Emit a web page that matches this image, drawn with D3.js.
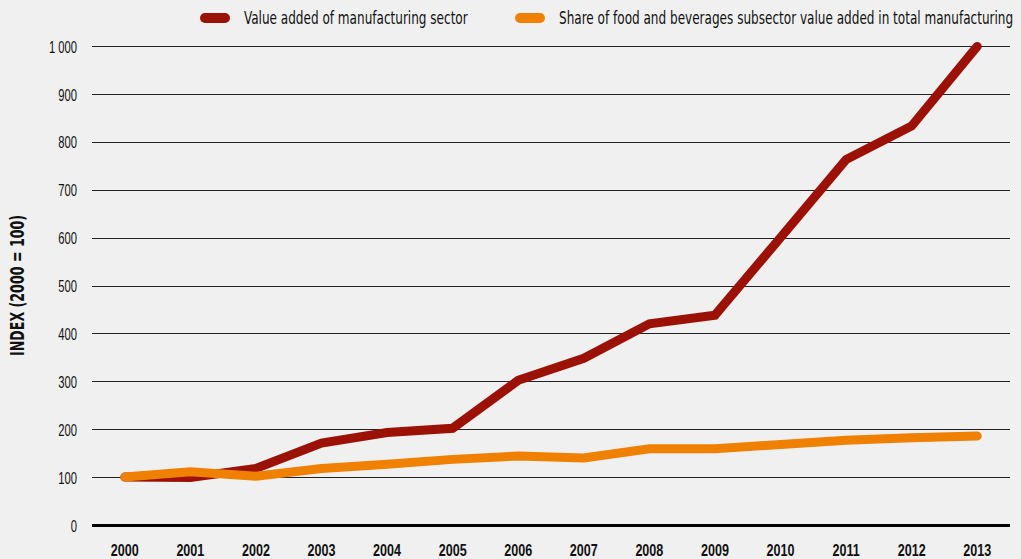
<!DOCTYPE html>
<html><head><meta charset="utf-8">
<script src="https://cdn.jsdelivr.net/npm/d3@7"></script>
<style>
html,body{margin:0;padding:0;background:#f0f0f0;}
svg{display:block;font-family:"DejaVu Sans Condensed","DejaVu Sans",sans-serif;font-stretch:condensed;}
</style></head>
<body><svg id="c" width="1021" height="559"></svg>
<script>
const years = [2000,2001,2002,2003,2004,2005,2006,2007,2008,2009,2010,2011,2012,2013];
const manufacturing = [100,99,118,171,193,202,302,348,420,438,600,763,833,999];
const foodShare = [100,111,102,118,127,137,144,140,159,159,168,177,182,186];
const yTicks = [0,100,200,300,400,500,600,700,800,900,1000];
const seriesNames = ["Value added of manufacturing sector","Share of food and beverages subsector value added in total manufacturing"];
const seriesColors = ["#9c1106","#f08000"];

const svg = d3.select("#c");
const m = {left:92,right:11,top:46,bottom:34};
const W = 1021, H = 559;
const x = d3.scaleBand().domain(years).range([m.left, W-m.right]).padding(0);
const y = d3.scaleLinear().domain([0,1000]).range([H-m.bottom, m.top]);
const fmt = v => v>=1000 ? d3.format(",")(v).replace(",", " ") : String(v);

// horizontally condensed text helper
function condense(sel, sx){
  sel.each(function(){
    const t = d3.select(this);
    const ox = +t.attr("x") || 0;
    t.attr("x", ox/sx).attr("transform", `scale(${sx},1)`);
  });
}

// grid
const yAxis = d3.axisLeft(y).tickValues(yTicks).tickFormat(fmt).tickSize(-(W-m.left-m.right)).tickPadding(15);
const gy = svg.append("g").attr("transform",`translate(${m.left},0)`).call(yAxis);
gy.select(".domain").remove();
gy.selectAll(".tick line").attr("stroke","#222").attr("stroke-width",1).attr("shape-rendering","crispEdges");
gy.selectAll(".tick").filter(d=>d===0).select("line").attr("stroke","#000").attr("stroke-width",2.5);
gy.selectAll(".tick text").attr("fill","#111").style("font-size","17px").attr("dy","0.36em");
condense(gy.selectAll(".tick text"), 0.66);

// x axis
const xAxis = d3.axisBottom(x).tickSize(0).tickPadding(0);
const gx = svg.append("g").attr("transform",`translate(0,${H-m.bottom})`).call(xAxis);
gx.select(".domain").remove();
gx.selectAll(".tick text").attr("fill","#111").style("font-size","17px").style("font-weight","bold")
  .attr("y",31).attr("dy",0);
condense(gx.selectAll(".tick text"), 0.74);

// axis title
const tg = svg.append("g").attr("transform",`translate(24,${(m.top+H-m.bottom)/2}) rotate(-90)`);
tg.append("text").attr("text-anchor","middle").attr("fill","#111").style("font-size","19px").style("font-weight","bold")
  .attr("transform","scale(0.74,1)").text("INDEX (2000 = 100)");

// lines
const line = d3.line().x((d,i)=>x(years[i])+x.bandwidth()/2).y(d=>y(d));
[manufacturing, foodShare].forEach((s,i)=>{
  svg.append("path").datum(s).attr("d",line).attr("fill","none")
    .attr("stroke",seriesColors[i]).attr("stroke-width",9)
    .attr("stroke-linecap","round").attr("stroke-linejoin","miter");
});

// legend
const legX = [200,515];
seriesNames.forEach((n,i)=>{
  const g = svg.append("g").attr("transform",`translate(${legX[i]},18)`);
  g.append("line").attr("x1",5).attr("x2",25).attr("y1",0).attr("y2",0)
    .attr("stroke",seriesColors[i]).attr("stroke-width",10).attr("stroke-linecap","round");
  g.append("text").attr("x",44).attr("y",0).attr("dy","0.36em").attr("fill","#111")
    .style("font-size","18px").text(n);
  condense(g.select("text"), 0.745);
});
</script></body></html>
